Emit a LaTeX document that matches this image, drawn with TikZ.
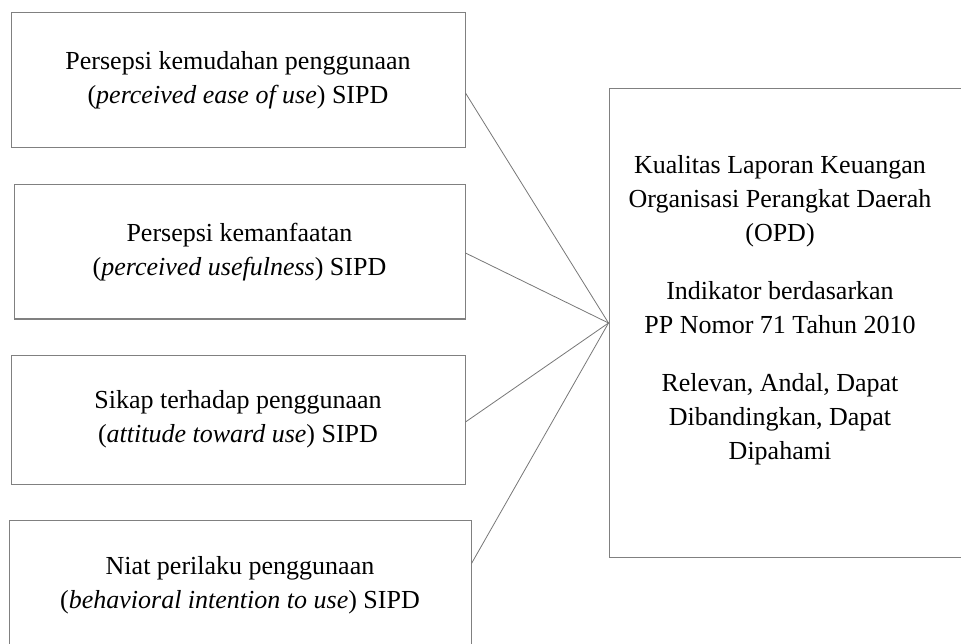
\documentclass[tikz,border=0pt]{standalone}
\usepackage{fontspec}
\setmainfont{Liberation Serif}
\begin{document}
\begin{tikzpicture}[x=1pt,y=-1pt,
  box/.style={draw=boxgray, line width=1pt, rectangle, inner sep=0pt, align=center,
    font=\fontsize{26}{34}\selectfont},
  txt/.style={align=center, inner sep=0pt, font=\fontsize{26}{34}\selectfont},
  link/.style={draw=linegray, line width=0.8pt}]
\definecolor{boxgray}{HTML}{808080}
\definecolor{linegray}{HTML}{777777}
\useasboundingbox (0,0) rectangle (961,644);
\clip (0,0) rectangle (961,644);
\node[box, minimum width=454pt, minimum height=135pt] (b1) at (238,80.5)
  {Persepsi kemudahan penggunaan\\(\textit{perceived ease of use}) SIPD};
\node[box, minimum width=451pt, minimum height=134pt] (b2) at (239.5,252)
  {Persepsi kemanfaatan\\(\textit{perceived usefulness}) SIPD};
\node[box, minimum width=454pt, minimum height=129pt] (b3) at (238,419.5)
  {Sikap terhadap penggunaan\\(\textit{attitude toward use}) SIPD};
\node[box, minimum width=462pt, minimum height=130pt] (b4) at (240,585)
  {Niat perilaku penggunaan\\(\textit{behavioral intention to use}) SIPD};
\node[box, minimum width=400pt, minimum height=468pt] (out) at (809,323) {};
\node[txt] (outtext) at (780,310.5)
  {Kualitas Laporan Keuangan\\Organisasi Perangkat Daerah\\(OPD)\\[24pt]
   Indikator berdasarkan\\PP Nomor 71 Tahun 2010\\[24pt]
   Relevan, Andal, Dapat\\Dibandingkan, Dapat\\Dipahami};
\draw[link] ([yshift=-12.5pt]b1.east) -- (out.west);
\draw[link] ([yshift=-1pt]b2.east) -- (out.west);
\draw[link] ([yshift=-2.5pt]b3.east) -- (out.west);
\draw[link] ([yshift=21.5pt]b4.east) -- (out.west);
\end{tikzpicture}
\end{document}
